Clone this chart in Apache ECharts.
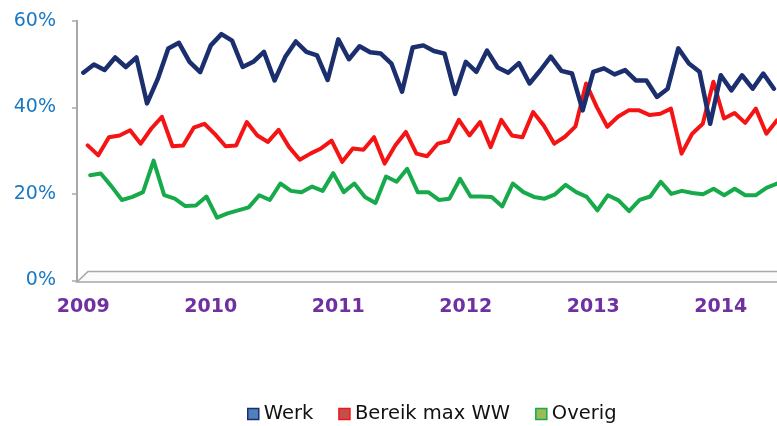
<!DOCTYPE html>
<html>
<head>
<meta charset="utf-8">
<script src="https://cdn.jsdelivr.net/npm/echarts@6/dist/echarts.min.js"></script>
<style>
  html, body { margin: 0; padding: 0; background: #fff; }
  #main { width: 777px; height: 426px; }
</style>
</head>
<body>
<div id="main"></div>
<script>
// maanden jan 2009 t/m jun 2014
const years = ['2009', '2010', '2011', '2012', '2013', '2014'];
const months = [];
years.forEach(function (y) {
  for (let m = 1; m <= 12; m++) {
    if (y === '2014' && m > 6) break;
    months.push(y + '-' + (m < 10 ? '0' + m : m));
  }
});

const werk = [48.0, 49.9, 48.6, 51.5, 49.3, 51.5, 40.9, 46.5, 53.6, 54.9, 50.5, 48.1,
  54.3, 56.9, 55.4, 49.3, 50.5, 52.8, 46.2, 51.6, 55.2, 52.8, 52.0, 46.3,
  55.7, 51.1, 54.1, 52.7, 52.4, 50.1, 43.6, 53.8, 54.3, 53.0, 52.4, 43.1,
  50.5, 48.2, 53.1, 49.2, 48.0, 50.2, 45.5, 48.5, 51.7, 48.4, 47.8, 39.3,
  48.2, 49.0, 47.6, 48.6, 46.2, 46.2, 42.4, 44.3, 53.6, 50.1, 48.2, 36.2,
  47.4, 43.9, 47.4, 44.3, 47.8, 44.3];
const bereikMaxWW = [31.2, 28.9, 33.1, 33.5, 34.7, 31.6, 35.1, 37.8, 31.0, 31.2, 35.3, 36.2,
  33.8, 31.0, 31.2, 36.6, 33.5, 32.0, 34.8, 30.8, 27.9, 29.3, 30.5, 32.3,
  27.4, 30.5, 30.2, 33.1, 27.0, 31.2, 34.3, 29.3, 28.7, 31.6, 32.2, 37.1,
  33.5, 36.6, 30.8, 37.1, 33.5, 33.1, 38.9, 35.8, 31.6, 33.2, 35.6, 45.5,
  40.1, 35.5, 37.8, 39.3, 39.3, 38.2, 38.5, 39.7, 29.3, 33.9, 36.2, 45.9,
  37.4, 38.7, 36.4, 39.7, 33.9, 37.0];
const overig = [24.3, 24.7, 21.8, 18.6, 19.3, 20.4, 27.7, 19.7, 18.9, 17.2, 17.3, 19.4,
  14.5, 15.5, 16.2, 16.9, 19.7, 18.6, 22.4, 20.7, 20.4, 21.7, 20.7, 24.8,
  20.4, 22.4, 19.3, 17.9, 24.0, 22.8, 25.8, 20.4, 20.4, 18.6, 18.9, 23.5,
  19.4, 19.4, 19.3, 17.1, 22.4, 20.4, 19.3, 18.9, 19.9, 22.1, 20.4, 19.3,
  16.2, 19.7, 18.5, 16.0, 18.6, 19.4, 22.8, 20.0, 20.7, 20.2, 19.9, 21.2,
  19.7, 21.2, 19.7, 19.7, 21.4, 22.4];

const yTicks = [0, 20, 40, 60];

const kleuren = { werk: '#1b2f6e', bereik: '#f51414', overig: '#17aa4b' };
const font = 'DejaVu Sans, Verdana, sans-serif';

var myChart = echarts.init(document.getElementById('main'));

// 3D-diepte: elke reeks iets naar rechts verschoven
const gridTop = 20.7, gridH = 259.8, gridW = 690.6;
const depthLeft = [83.3, 87.7, 90.2];

function hiddenX(i) {
  return {
    type: 'category', gridIndex: i, data: months, boundaryGap: false,
    show: false
  };
}
function hiddenY(i) {
  return { type: 'value', gridIndex: i, min: yTicks[0], max: yTicks[yTicks.length - 1], show: false };
}

let option = {
  backgroundColor: '#fff',
  animation: false,
  graphic: [{
    type: 'polygon',
    z: 0,
    shape: { points: [[77, 282], [88, 271.5], [800, 271.5], [800, 282]] },
    style: { fill: '#fbfbfb', stroke: '#a8a8a8', lineWidth: 1.6 }
  }],
  grid: depthLeft.map(function (l) {
    return { left: l, top: gridTop, width: gridW, height: gridH, containLabel: false };
  }),
  xAxis: [
    {
      type: 'category', gridIndex: 0, data: months, boundaryGap: false,
      axisLine: { show: false }, axisTick: { show: false },
      axisLabel: {
        interval: 11, margin: 17, color: '#7030a0', fontSize: 19, fontWeight: 'bold',
        fontFamily: font,
        formatter: function (v) { return v.slice(0, 4); }
      }
    },
    hiddenX(1), hiddenX(2)
  ],
  yAxis: [
    {
      type: 'value', gridIndex: 0, min: 0, max: 60, interval: 20, offset: 6.3,
      splitLine: { show: false },
      axisLine: { show: true, lineStyle: { color: '#a8a8a8', width: 2 } },
      axisTick: { show: true, length: 5, lineStyle: { color: '#a8a8a8', width: 1.5 } },
      axisLabel: { margin: 21, color: '#1a78c2', fontSize: 19, fontFamily: font, formatter: '{value}%' }
    },
    hiddenY(1), hiddenY(2)
  ],
  legend: {
    left: 242, top: 399,
    icon: 'rect', itemWidth: 11, itemHeight: 11, itemGap: 25,
    textStyle: { fontSize: 19.5, color: '#111', fontFamily: font },
    data: [
      { name: 'Werk', itemStyle: { color: '#4f81bd', borderColor: kleuren.werk, borderWidth: 1.5 } },
      { name: 'Bereik max WW', itemStyle: { color: '#c0504d', borderColor: kleuren.bereik, borderWidth: 1.5 } },
      { name: 'Overig', itemStyle: { color: '#9bbb59', borderColor: kleuren.overig, borderWidth: 1.5 } }
    ]
  },
  series: [
    {
      name: 'Overig', type: 'line', xAxisIndex: 2, yAxisIndex: 2, data: overig,
      showSymbol: false, symbol: 'none', color: kleuren.overig,
      lineStyle: { width: 4, color: kleuren.overig, cap: 'round', join: 'round' }
    },
    {
      name: 'Bereik max WW', type: 'line', xAxisIndex: 1, yAxisIndex: 1, data: bereikMaxWW,
      showSymbol: false, symbol: 'none', color: kleuren.bereik,
      lineStyle: { width: 4, color: kleuren.bereik, cap: 'round', join: 'round' }
    },
    {
      name: 'Werk', type: 'line', xAxisIndex: 0, yAxisIndex: 0, data: werk,
      showSymbol: false, symbol: 'none', color: kleuren.werk,
      lineStyle: { width: 4.5, color: kleuren.werk, cap: 'round', join: 'round' }
    }
  ]
};
myChart.setOption(option);
</script>
</body>
</html>
